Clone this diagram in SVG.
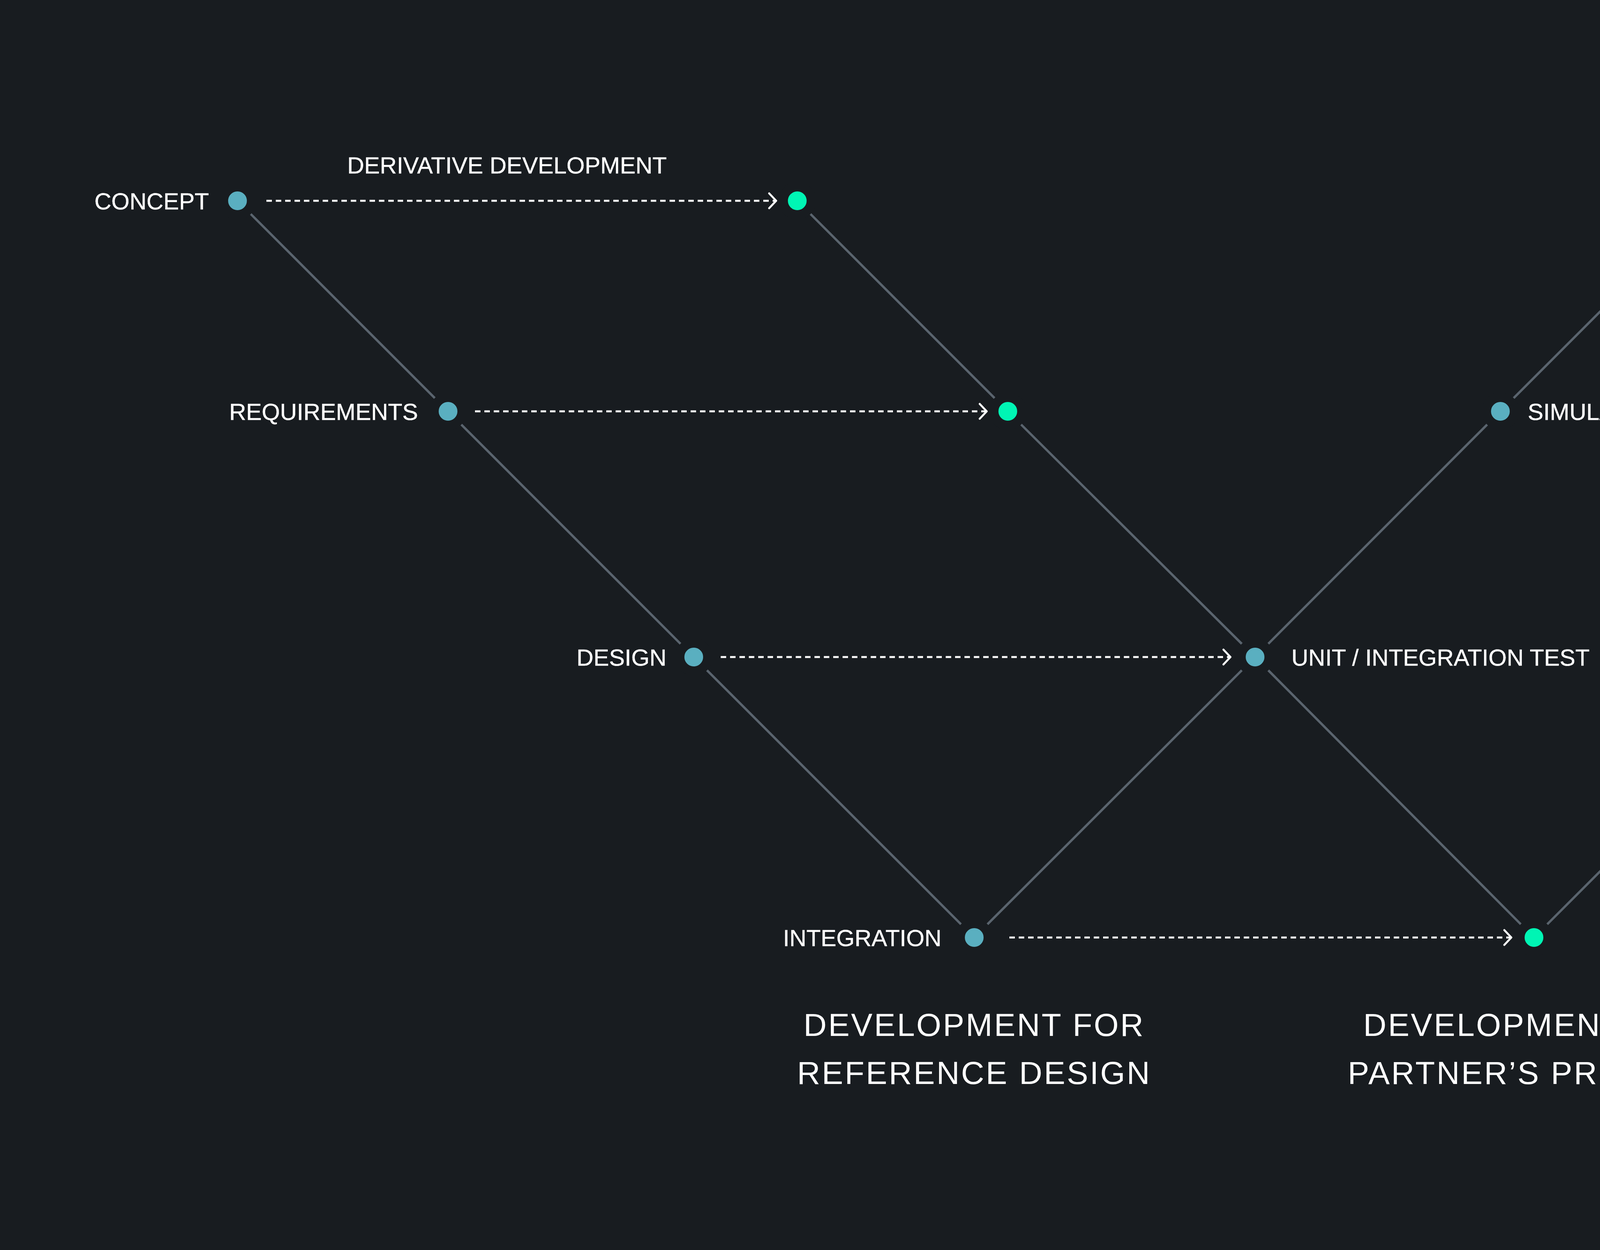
<svg xmlns="http://www.w3.org/2000/svg" width="6400" height="3200" viewBox="0 0 6400 3200">
<defs>
<style>
.ln{stroke:#5a646e;stroke-width:6;fill:none}
.da{stroke:#ffffff;stroke-width:5;stroke-dasharray:14 10;fill:none;marker-end:url(#ah)}
.t{fill:#ffffff;stroke:#ffffff;stroke-width:0.5;font-family:"Liberation Sans","Open Sans",sans-serif;font-size:60px}
.b{fill:#ffffff;font-family:"Liberation Sans","Open Sans",sans-serif;font-size:82px;letter-spacing:4px;text-anchor:middle}
.s{fill:#5aafc0;stroke:#181c20;stroke-width:24}
.g{fill:#00f5b4;stroke:#181c20;stroke-width:24}
</style>
<marker id="ah" viewBox="0 0 24 44" refX="22" refY="22" markerWidth="24" markerHeight="44" markerUnits="userSpaceOnUse" orient="auto"><path d="M3,3 L21,22 L3,41" fill="none" stroke="#ffffff" stroke-width="5" stroke-linecap="round" stroke-linejoin="round"/></marker>
</defs>
<rect width="6400" height="3200" fill="#181c20"/>
<g id="connectors">
<polyline class="ln" points="608,514 1147,1053 1776,1682 2494,2400"/>
<polyline class="ln" points="2041,514 2580,1053 3213,1682 3927,2400"/>
<polyline class="ln" points="2494,2400 3213,1682 3841,1053 4384,510"/>
<polyline class="ln" points="3927,2400 4645,1682 5278,1053 5817,510"/>
<line class="da" x1="682" y1="514" x2="1988" y2="514"/>
<line class="da" x1="1216" y1="1053" x2="2527" y2="1053"/>
<line class="da" x1="1845" y1="1682" x2="3151" y2="1682"/>
<line class="da" x1="2584" y1="2400" x2="3870" y2="2400"/>
<line class="da" x1="4180" y1="1682" x2="4588" y2="1682"/>
<line class="da" x1="4853" y1="1053" x2="5217" y2="1053"/>
<line class="da" x1="4931" y1="510" x2="5756" y2="510"/>
</g>
<g id="concept"><circle class="s" cx="608" cy="514" r="36"/><text class="t" x="535" y="536" text-anchor="end">CONCEPT</text></g>
<g id="concept-d"><circle class="g" cx="2041" cy="514" r="36"/><text class="t" x="1298" y="444" text-anchor="middle">DERIVATIVE DEVELOPMENT</text></g>
<g id="requirements"><circle class="s" cx="1147" cy="1053" r="36"/><text class="t" x="1070" y="1075" text-anchor="end">REQUIREMENTS</text></g>
<g id="requirements-d"><circle class="g" cx="2580" cy="1053" r="36"/></g>
<g id="design"><circle class="s" cx="1776" cy="1682" r="36"/><text class="t" x="1706" y="1704" text-anchor="end">DESIGN</text></g>
<g id="unit"><circle class="s" cx="3213" cy="1682" r="36"/><text class="t" x="3306" y="1704">UNIT / INTEGRATION TEST</text></g>
<g id="unit-d"><circle class="g" cx="4645" cy="1682" r="36"/></g>
<g id="integration"><circle class="s" cx="2494" cy="2400" r="36"/><text class="t" x="2410" y="2422" text-anchor="end">INTEGRATION</text></g>
<g id="integration-d"><circle class="g" cx="3927" cy="2400" r="36"/></g>
<g id="sim"><circle class="s" cx="3841" cy="1053" r="36"/><text class="t" x="3911" y="1075">SIMULATION / VEHICLE TEST</text></g>
<g id="sim-d"><circle class="g" cx="5278" cy="1053" r="36"/></g>
<g id="overall"><circle class="s" cx="4384" cy="510" r="36"/><text class="t" x="4449" y="532">OVERALL TEST</text></g>
<g id="overall-d"><circle class="g" cx="5817" cy="510" r="36"/></g>
<g id="title-ref"><text class="b" x="2494" y="2652">DEVELOPMENT FOR</text><text class="b" x="2494" y="2775">REFERENCE DESIGN</text></g>
<g id="title-partner"><text class="b" x="3927" y="2652">DEVELOPMENT FOR</text><text class="b" x="3927" y="2775">PARTNER’S PRODUCT</text></g>
</svg>
